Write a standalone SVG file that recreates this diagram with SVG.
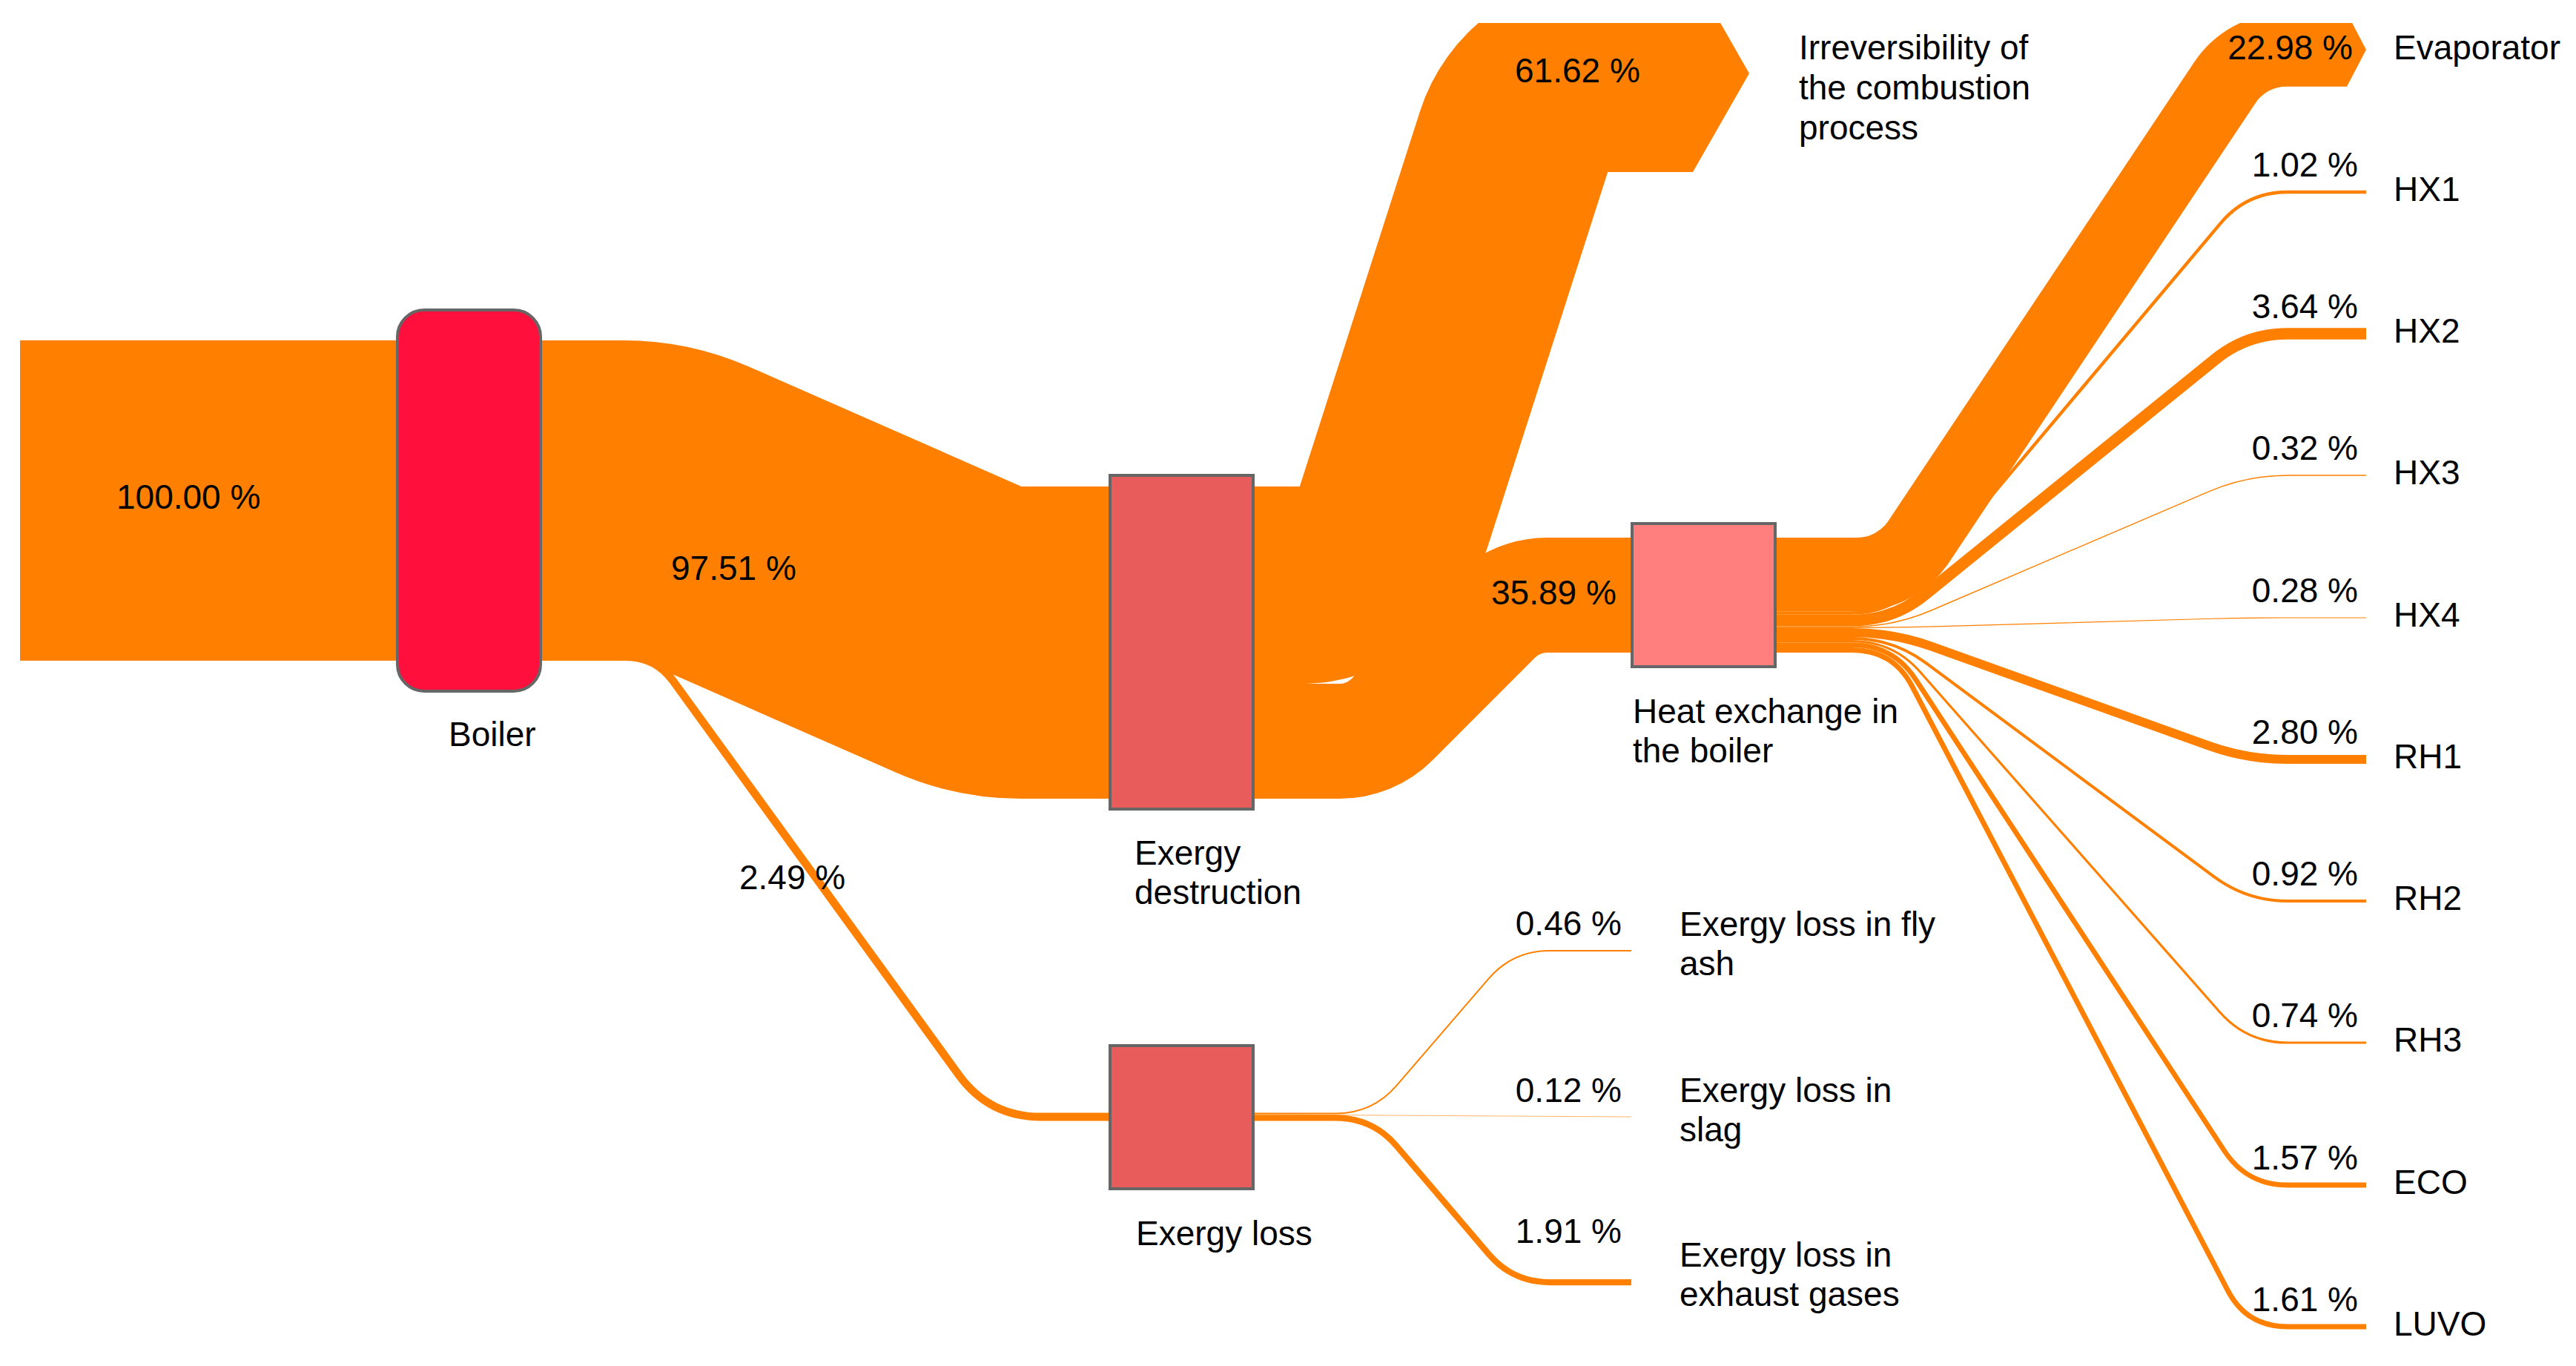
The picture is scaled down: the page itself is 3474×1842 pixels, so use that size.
<svg xmlns="http://www.w3.org/2000/svg" width="3474" height="1842" viewBox="0 0 3474 1842">
<style>
.flow{fill:#FF8000}
.ln{fill:none;stroke:#FF8000;stroke-linecap:butt;stroke-linejoin:round}
.node{stroke:#666666;stroke-width:4}
text{font-family:"Liberation Sans",Arial,sans-serif;font-size:46px;fill:#000000}
.r{text-anchor:end}
</style>
<defs>
<clipPath id="crop"><rect x="0" y="31" width="3474" height="1811"/></clipPath>
</defs>
<rect x="0" y="0" width="3474" height="1842" fill="#FFFFFF"/>
<g id="connectors" clip-path="url(#crop)">
<rect id="f-input" class="flow" x="27" y="458.9" width="613" height="432"/>
<path id="f-boiler-destruction" class="flow" d="M725,458.9 L840.7,458.9 A421.2,421.2 0 0 1 1010.2,494.5 L1377.4,655.9 L1505,655.9 L1505,1077.1 L1377.4,1077.1 A421.2,421.2 0 0 1 1207.9,1041.5 L840.7,880.1 L725,880.1 Z"/>
<path id="f-boiler-loss" class="ln" stroke-width="10.76" d="M725,885.5 H844 Q884,885.5 907.5,917.9 L1292.9,1449.3 Q1334,1506 1404,1506 H1505"/>
<path id="f-destruction-heat" class="flow" d="M1680,922 L1806.6,922 A22.5,22.5 0 0 0 1822.5,915.4 L1960.9,777 A177.5,177.5 0 0 1 2086.4,725 L2210,725 L2210,880 L2086.4,880 A22.5,22.5 0 0 0 2070.5,886.6 L1932.1,1025 A177.5,177.5 0 0 1 1806.6,1077 L1680,1077 Z"/>
<path id="f-destruction-irrev" class="flow" d="M1680,656 L1752.8,656 L1914.7,150.9 A266.2,266.2 0 0 1 2168.2,-34.1 L2283,-34.1 L2359,99 L2283,232.1 L2168.2,232.1 L2006.3,737.2 A266.2,266.2 0 0 1 1752.8,922.2 L1680,922.2 Z"/>
<path id="f-evap" class="flow" d="M2385,725 L2504.75,725 A50,50 0 0 0 2546.34,702.75 L2959.15,83.8 A149.3,149.3 0 0 1 3083.35,17.35 L3165,17.35 L3191,67 L3165,116.65 L3083.35,116.65 A50,50 0 0 0 3041.76,138.9 L2628.95,757.85 A149.3,149.3 0 0 1 2504.75,824.3 L2385,824.3 Z"/>
<path id="f-hx1" class="ln" stroke-width="4.41" d="M2385,826.47 H2498 Q2553,826.47 2588.4,784.4 L2994.6,301.1 Q3030,259 3085,259 H3191"/>
<path id="f-hx2" class="ln" stroke-width="15.72" d="M2385,836.54 H2498 Q2553,836.54 2595.7,801.9 L2987.3,484.6 Q3030,450 3085,450 H3191"/>
<path id="f-hx3" class="ln" stroke-width="1.38" d="M2385,845.09 H2498 Q2553,845.09 2603.6,823.5 L2979.4,662.6 Q3030,641 3085,641 H3191"/>
<path id="f-hx4" class="ln" stroke-width="1.21" d="M2385,846.39 H2498 Q2553,846.39 2608,844.85 L2975,834.5 Q3030,833 3085,833 H3191"/>
<path id="f-rh1" class="ln" stroke-width="12.1" d="M2385,853.04 H2498 Q2553,853.04 2604.8,871.6 L2978.2,1005.4 Q3030,1024 3085,1024 H3191"/>
<path id="f-rh2" class="ln" stroke-width="3.97" d="M2385,861.08 H2498 Q2553,861.08 2597.2,893.9 L2985.8,1182.2 Q3030,1215 3085,1215 H3191"/>
<path id="f-rh3" class="ln" stroke-width="3.2" d="M2385,864.66 H2498 Q2553,864.66 2589.4,905.96 L2993.6,1364.7 Q3030,1406 3085,1406 H3191"/>
<path id="f-eco" class="ln" stroke-width="6.78" d="M2385,869.65 H2498 Q2553,869.65 2583.1,915.65 L2999.9,1552 Q3030,1598 3085,1598 H3191"/>
<path id="f-luvo" class="ln" stroke-width="6.96" d="M2385,876.52 H2498 Q2553,876.52 2578.5,925.2 L3004.5,1740.3 Q3030,1789 3085,1789 H3191"/>
<path id="f-flyash" class="ln" stroke-width="1.99" d="M1685,1501.61 H1801 Q1851,1501.61 1883.6,1463.7 L2007.4,1319.9 Q2040,1282 2090,1282 H2200"/>
<path id="f-slag" class="ln" stroke-width="0.6" d="M1685,1502.87 L2200,1506"/>
<path id="f-exhaust" class="ln" stroke-width="8.25" d="M1685,1507.26 H1801 Q1851,1507.26 1883.4,1545.3 L2007.6,1691 Q2040,1729 2090,1729 H2200"/>
</g>
<g id="connector-labels">
<text x="157" y="686">100.00 %</text>
<text x="905" y="782">97.51 %</text>
<text x="997" y="1199">2.49 %</text>
<text x="2043" y="111">61.62 %</text>
<text x="2011" y="815">35.89 %</text>
<text class="r" x="3173" y="80">22.98 %</text>
<text class="r" x="3180" y="238">1.02 %</text>
<text class="r" x="3180" y="429">3.64 %</text>
<text class="r" x="3180" y="620">0.32 %</text>
<text class="r" x="3180" y="812">0.28 %</text>
<text class="r" x="3180" y="1003">2.80 %</text>
<text class="r" x="3180" y="1194">0.92 %</text>
<text class="r" x="3180" y="1385">0.74 %</text>
<text class="r" x="3180" y="1577">1.57 %</text>
<text class="r" x="3180" y="1768">1.61 %</text>
<text class="r" x="2187" y="1261">0.46 %</text>
<text class="r" x="2187" y="1486">0.12 %</text>
<text class="r" x="2187" y="1676">1.91 %</text>
</g>
<g id="node-boiler">
<rect class="node" x="536" y="418" width="193" height="514" rx="36" ry="36" fill="#FF0F3C"/>
<text x="605" y="1006">Boiler</text>
</g>
<g id="node-exergy-destruction">
<rect class="node" x="1497" y="641" width="193" height="450" fill="#E85C5C"/>
<text x="1530" y="1166">Exergy</text>
<text x="1530" y="1219">destruction</text>
</g>
<g id="node-exergy-loss">
<rect class="node" x="1497" y="1410" width="193" height="193" fill="#E85C5C"/>
<text x="1532" y="1679">Exergy loss</text>
</g>
<g id="node-heat-exchange">
<rect class="node" x="2201" y="706" width="193" height="193" fill="#FF7F7F"/>
<text x="2202" y="975">Heat exchange in</text>
<text x="2202" y="1028">the boiler</text>
</g>
<g id="node-irreversibility">
<text x="2426" y="80">Irreversibility of</text>
<text x="2426" y="134">the combustion</text>
<text x="2426" y="188">process</text>
</g>
<g id="node-evaporator"><text x="3228" y="80">Evaporator</text></g>
<g id="node-hx1"><text x="3228" y="271">HX1</text></g>
<g id="node-hx2"><text x="3228" y="462">HX2</text></g>
<g id="node-hx3"><text x="3228" y="653">HX3</text></g>
<g id="node-hx4"><text x="3228" y="845">HX4</text></g>
<g id="node-rh1"><text x="3228" y="1036">RH1</text></g>
<g id="node-rh2"><text x="3228" y="1227">RH2</text></g>
<g id="node-rh3"><text x="3228" y="1418">RH3</text></g>
<g id="node-eco"><text x="3228" y="1610">ECO</text></g>
<g id="node-luvo"><text x="3228" y="1801">LUVO</text></g>
<g id="node-fly-ash">
<text x="2265" y="1262">Exergy loss in fly</text>
<text x="2265" y="1315">ash</text>
</g>
<g id="node-slag">
<text x="2265" y="1486">Exergy loss in</text>
<text x="2265" y="1539">slag</text>
</g>
<g id="node-exhaust">
<text x="2265" y="1708">Exergy loss in</text>
<text x="2265" y="1761">exhaust gases</text>
</g>
</svg>
